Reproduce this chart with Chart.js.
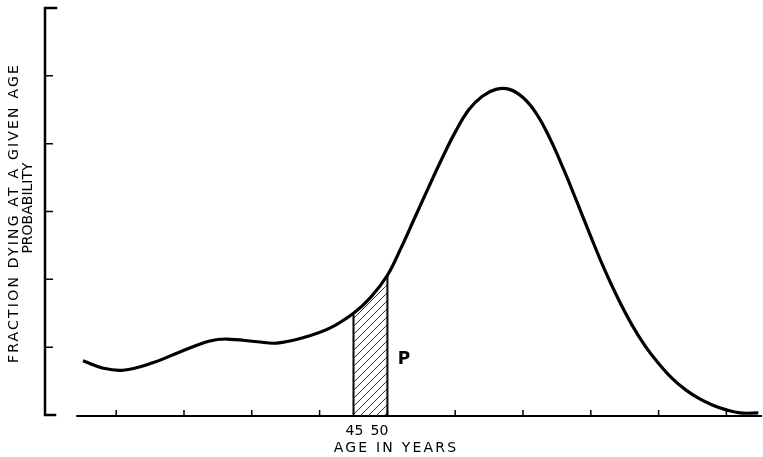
<!DOCTYPE html>
<html>
<head>
<meta charset="utf-8">
<script src="https://cdn.jsdelivr.net/npm/chart.js@4"></script>
<style>body{margin:0;background:#fff}</style>
</head>
<body>
<canvas id="curve" width="763" height="457"></canvas>
<script>
// age in years vs. fraction dying at that age
const ages = [5.1, 8.1, 11.0, 15.4, 19.4, 23.8, 26.3, 30.8, 33.7, 37.6, 41.5, 45, 47.5, 50, 52, 54, 56, 58, 60, 62, 64, 66, 68, 70, 72, 74, 76, 78, 80, 82, 84, 86, 88, 90, 92, 94, 96, 98, 100, 102, 104.7];
const fraction = [0.80, 0.69, 0.66, 0.77, 0.93, 1.09, 1.12, 1.08, 1.06, 1.14, 1.28, 1.50, 1.73, 2.06, 2.46, 2.90, 3.34, 3.77, 4.17, 4.50, 4.70, 4.80, 4.80, 4.68, 4.44, 4.07, 3.62, 3.13, 2.63, 2.15, 1.72, 1.34, 1.02, 0.76, 0.54, 0.37, 0.24, 0.145, 0.075, 0.03, 0.03];
const xTicks = [10, 20, 30, 40, 50, 60, 70, 80, 90, 100];
const yTicks = [0, 1, 2, 3, 4, 5, 6];
const hatchFrom = 45;
const hatchTo = 50;
const xLabels = ['45', '50'];

const curve = ages.map((a, i) => ({x: a, y: fraction[i]}));
const band = curve.filter(p => p.x >= hatchFrom && p.x <= hatchTo);
const topAt = a => band.find(p => p.x === a).y;

// diagonal hatch
const tile = document.createElement('canvas');
tile.width = 8; tile.height = 8;
const tc = tile.getContext('2d');
tc.strokeStyle = '#000';
tc.lineWidth = 0.8;
tc.beginPath();
tc.moveTo(-1, 9); tc.lineTo(9, -1);
tc.moveTo(-1, 1); tc.lineTo(1, -1);
tc.moveTo(7, 9); tc.lineTo(9, 7);
tc.stroke();
const hatch = document.getElementById('curve').getContext('2d').createPattern(tile, 'repeat');

const drawing = {
  id: 'drawing',
  afterDatasetsDraw(chart) {
    const {ctx, chartArea} = chart;
    const x = chart.scales.x, y = chart.scales.y;
    const ax = chartArea.left;
    const base = y.getPixelForValue(0);
    ctx.save();
    ctx.strokeStyle = '#000';
    ctx.fillStyle = '#000';
    ctx.lineWidth = 2.5;
    ctx.lineCap = 'square';
    // y axis with bracket ends
    ctx.beginPath();
    ctx.moveTo(ax + 11, y.getPixelForValue(6));
    ctx.lineTo(ax, y.getPixelForValue(6));
    ctx.lineTo(ax, base);
    ctx.lineTo(ax + 10, base);
    ctx.stroke();
    ctx.lineCap = 'butt';
    ctx.lineWidth = 1.5;
    ctx.beginPath();
    yTicks.slice(1, -1).forEach(v => {
      const py = y.getPixelForValue(v);
      ctx.moveTo(ax, py);
      ctx.lineTo(ax + 8, py);
    });
    ctx.stroke();
    // x axis
    ctx.lineWidth = 2;
    ctx.beginPath();
    ctx.moveTo(x.getPixelForValue(4.1), base + 1);
    ctx.lineTo(chartArea.right, base + 1);
    ctx.stroke();
    ctx.lineWidth = 1.5;
    ctx.beginPath();
    xTicks.forEach(v => {
      const px = x.getPixelForValue(v);
      ctx.moveTo(px, base + 1);
      ctx.lineTo(px, base - 5);
    });
    ctx.stroke();
    // texts
    ctx.textBaseline = 'middle';
    ctx.textAlign = 'center';
    ctx.font = '14px "DejaVu Sans"';
    ctx.fillText(xLabels[0], x.getPixelForValue(hatchFrom) + 1, 431);
    ctx.fillText(xLabels[1], x.getPixelForValue(hatchTo) - 8, 431);
    ctx.letterSpacing = '2.2px';
    ctx.fillText('AGE IN YEARS', 396, 448);
    ctx.letterSpacing = '0px';
    ctx.font = 'bold 17px "DejaVu Sans"';
    ctx.fillText('P', 404, 360);
    ctx.font = '14px "DejaVu Sans"';
    ctx.translate(14, 213);
    ctx.rotate(-Math.PI / 2);
    ctx.letterSpacing = '2.2px';
    ctx.fillText('FRACTION DYING AT A GIVEN AGE', 0, 0);
    ctx.letterSpacing = '0px';
    ctx.fillText('PROBABILITY', 5, 14);
    ctx.restore();
  }
};

new Chart(document.getElementById('curve'), {
  type: 'line',
  data: {
    datasets: [
      {
        data: curve,
        borderColor: '#000',
        borderWidth: 3.2,
        pointRadius: 0,
        tension: 0.4,
        fill: false
      },
      {
        data: band,
        borderWidth: 0,
        pointRadius: 0,
        tension: 0.4,
        backgroundColor: hatch,
        fill: 'origin'
      },
      {
        data: [{x: hatchFrom, y: 0}, {x: hatchFrom, y: topAt(hatchFrom)}],
        borderColor: '#000',
        borderWidth: 2,
        pointRadius: 0
      },
      {
        data: [{x: hatchTo, y: 0}, {x: hatchTo, y: topAt(hatchTo)}],
        borderColor: '#000',
        borderWidth: 2,
        pointRadius: 0
      }
    ]
  },
  options: {
    responsive: false,
    animation: false,
    layout: {
      padding: {left: 45, right: 1, top: 8, bottom: 42}
    },
    plugins: {
      legend: {display: false},
      tooltip: {enabled: false}
    },
    scales: {
      x: {type: 'linear', min: -0.5, max: 105.25, display: false},
      y: {min: 0, max: 6, display: false}
    }
  },
  plugins: [drawing]
});
</script>
</body>
</html>
